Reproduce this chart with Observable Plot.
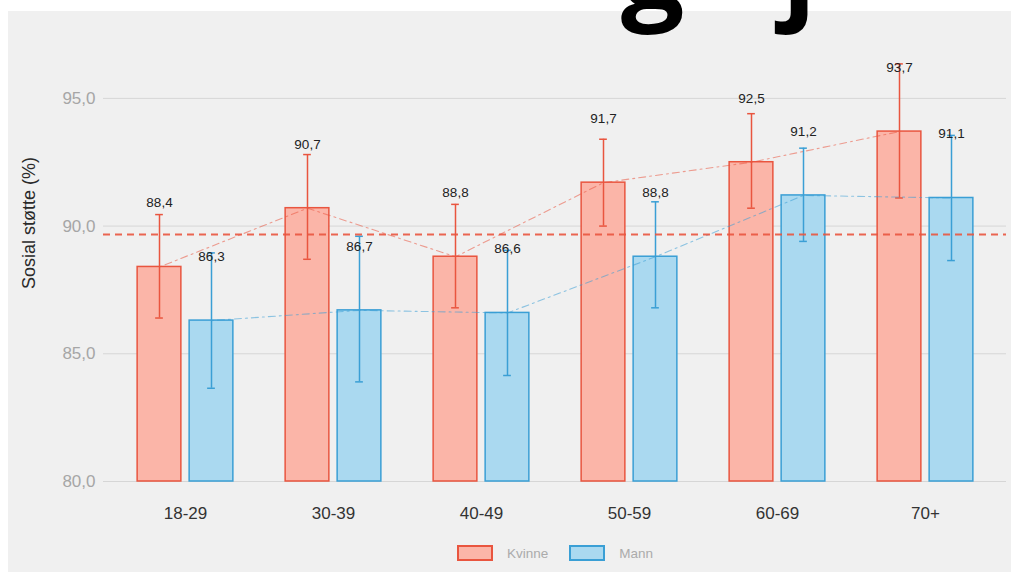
<!DOCTYPE html>
<html>
<head>
<meta charset="utf-8">
<script src="https://cdn.jsdelivr.net/npm/d3@7"></script>
<script src="https://cdn.jsdelivr.net/npm/@observablehq/plot@0.6"></script>
<style>
  html, body { margin: 0; padding: 0; background: #ffffff; width: 1015px; height: 572px; overflow: hidden; font-family: "Liberation Sans", Arial, sans-serif; }
  #panel { position: absolute; left: 8px; top: 11px; width: 1003px; height: 561px; background: #f0f0f0; }
  #chart { position: absolute; left: 0; top: 0; }
  #ytitle { position: absolute; left: 21px; top: 212px; transform: translate(-50%, -50%) rotate(-90deg); white-space: nowrap; font-size: 18px; color: #2a2a2a; }
  #legend { position: absolute; left: 449px; top: 534px; display: flex; align-items: center; font-size: 13.5px; color: #ababab; }
  .sw { width: 32px; height: 12px; border: 2px solid; margin-right: 14px; }
  .lab { margin-right: 21px; }
  #titlecut { position: absolute; left: 0; top: 0; }
</style>
</head>
<body>
<div id="panel">
  <div id="chart"></div>
  <div id="ytitle">Sosial støtte (%)</div>
  <div id="legend"></div>
</div>
<svg id="titlecut" width="1015" height="45"><text id="tc" font-family="Open Sans" font-weight="bold" font-size="112" fill="#000"></text></svg>
<script>
// ---- data ----
const ages = ["18-29", "30-39", "40-49", "50-59", "60-69", "70+"];
const sexes = ["Kvinne", "Mann"];
const kvinne   = [88.4, 90.7, 88.8, 91.7, 92.5, 93.7];
const kvinneLo = [86.4, 88.7, 86.8, 90.0, 90.7, 91.1];
const kvinneHi = [90.45, 92.8, 90.85, 93.4, 94.4, 96.35];
const mann     = [86.3, 86.7, 86.6, 88.8, 91.2, 91.1];
const mannLo   = [83.65, 83.9, 84.15, 86.8, 89.4, 88.65];
const mannHi   = [88.95, 89.6, 89.05, 90.95, 93.05, 93.55];
const overallMean = 89.67;
const yTicks = [80, 85, 90, 95];
const titleFragments = ["g", "j"];

// ---- styles ----
const fillC = {Kvinne: "#fbb5a8", Mann: "#aad9f0"};
const strokeC = {Kvinne: "#e9553f", Mann: "#3a9fd5"};

const W = 1002, H = 522;
const mL = 95, mR = 4, mT = 46, mB = 52;
const po = 0.045;
const bw = (W - mL - mR) / (ages.length + 2 * po);
const barW = 44, gap = 8, capW = 8;
const barInset = (bw - barW) / 2;
const capInset = (bw - capW) / 2;
const off = {Kvinne: -(barW + gap) / 2, Mann: (barW + gap) / 2};
const fmt = d => d.toFixed(1).replace(".", ",");

const rows = ages.flatMap((a, i) => [
  {age: a, sex: "Kvinne", v: kvinne[i], lo: kvinneLo[i], hi: kvinneHi[i]},
  {age: a, sex: "Mann", v: mann[i], lo: mannLo[i], hi: mannHi[i]}
]);
const bySex = s => rows.filter(r => r.sex === s);

const marks = [
  Plot.ruleY(yTicks, {stroke: "#d6d6d6", strokeWidth: 1})
];
for (const s of sexes) {
  marks.push(Plot.barY(bySex(s), {x: "age", y1: 80, y2: "v", fill: fillC[s], stroke: strokeC[s], strokeWidth: 1.5, insetLeft: barInset, insetRight: barInset, dx: off[s]}));
}
for (const s of sexes) {
  const d = bySex(s);
  marks.push(Plot.ruleX(d, {x: "age", y1: "lo", y2: "hi", dx: off[s], stroke: strokeC[s], strokeWidth: 1.5}));
  marks.push(Plot.tickY(d, {x: "age", y: "lo", dx: off[s], insetLeft: capInset, insetRight: capInset, stroke: strokeC[s], strokeWidth: 1.5}));
  marks.push(Plot.tickY(d, {x: "age", y: "hi", dx: off[s], insetLeft: capInset, insetRight: capInset, stroke: strokeC[s], strokeWidth: 1.5}));
}
for (const s of sexes) {
  marks.push(Plot.lineY(bySex(s), {x: "age", y: "v", dx: off[s], stroke: strokeC[s], strokeOpacity: 0.55, strokeWidth: 1.1, strokeDasharray: "2,4,7,4"}));
}
marks.push(Plot.ruleY([overallMean], {stroke: strokeC.Kvinne, strokeWidth: 2, strokeDasharray: "7,5", strokeOpacity: 0.9}));
for (const s of sexes) {
  marks.push(Plot.text(bySex(s), {x: "age", y: r => r.v + 2.5, text: r => fmt(r.v), dx: off[s], fontSize: 13.5, fill: "#222"}));
}
marks.push(Plot.axisY({ticks: yTicks, tickFormat: fmt, tickSize: 0, tickPadding: 8, fontSize: 17, color: "#a6a6a6", label: null}));
marks.push(Plot.axisX({tickSize: 0, tickPadding: 25, fontSize: 17, color: "#333", label: null}));

const chart = Plot.plot({
  width: W, height: H,
  marginLeft: mL, marginRight: mR, marginTop: mT, marginBottom: mB,
  style: {background: "transparent", fontFamily: "Liberation Sans, Arial, sans-serif"},
  x: {type: "band", domain: ages, paddingInner: 0, paddingOuter: po, label: null},
  y: {domain: [80, 96.6], label: null},
  marks
});
document.getElementById("chart").appendChild(chart);

// legend
const lg = document.getElementById("legend");
for (const s of sexes) {
  const sw = document.createElement("div");
  sw.className = "sw";
  sw.style.background = fillC[s];
  sw.style.borderColor = strokeC[s];
  const lab = document.createElement("span");
  lab.className = "lab";
  lab.textContent = s;
  lg.appendChild(sw); lg.appendChild(lab);
}

// cut-off title fragments above the chart
const tc = document.getElementById("tc");
tc.innerHTML = "";
const pos = [[621, 8], [782, 8]];
titleFragments.forEach((t, i) => {
  const ts = document.createElementNS("http://www.w3.org/2000/svg", "tspan");
  ts.setAttribute("x", pos[i][0]); ts.setAttribute("y", pos[i][1]);
  ts.textContent = t;
  tc.appendChild(ts);
});
</script>
</body>
</html>
